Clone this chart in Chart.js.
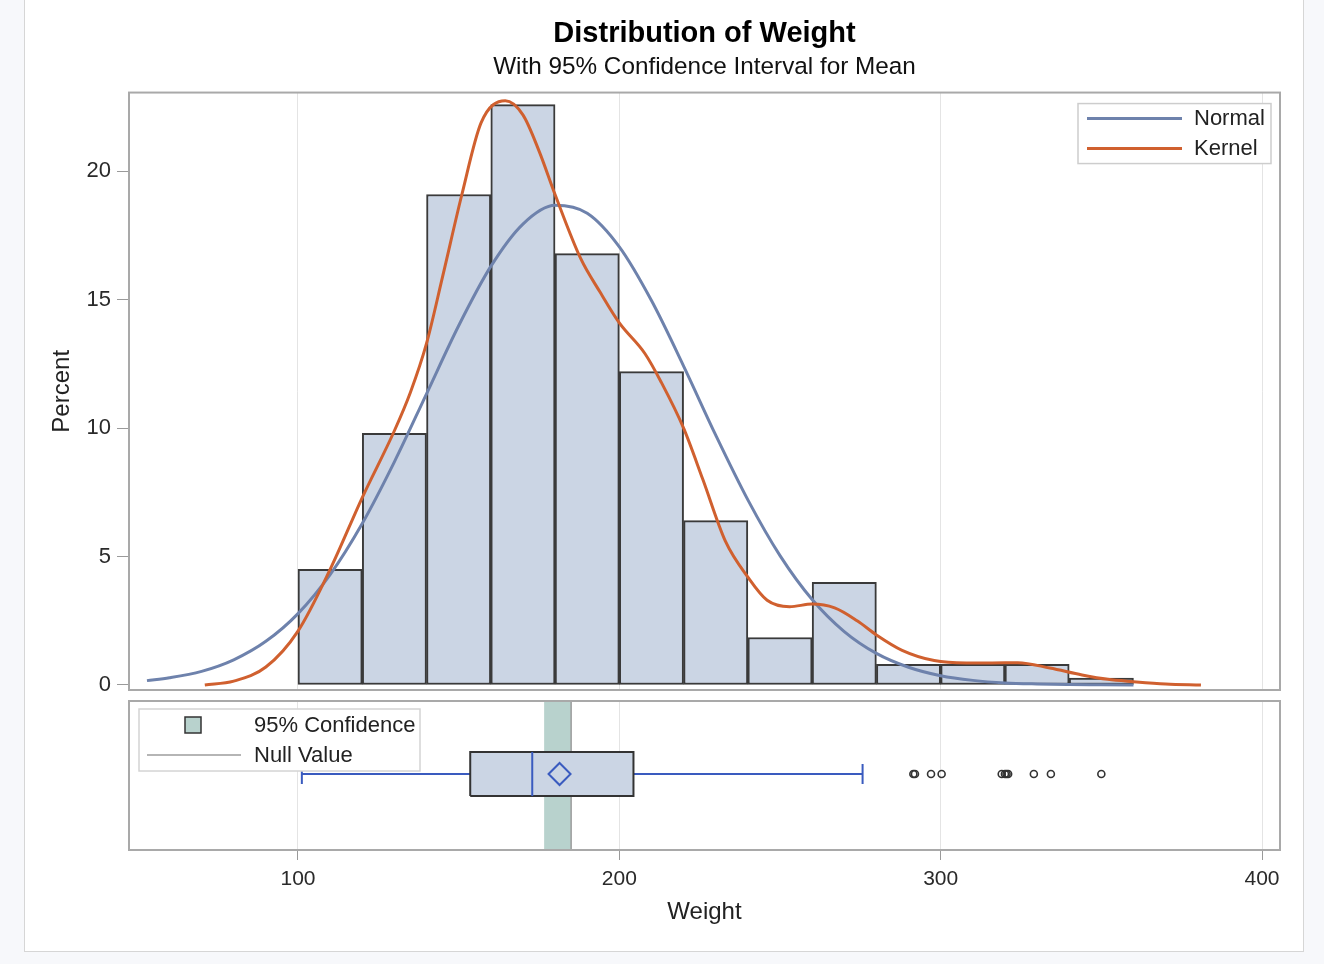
<!DOCTYPE html>
<html>
<head>
<meta charset="utf-8">
<title>Distribution of Weight</title>
<script src="https://cdn.jsdelivr.net/npm/chart.js@4.4.1/dist/chart.umd.min.js"></script>
<style>
  html, body { margin: 0; padding: 0; background: #f7f8fb; }
  #frame { position: absolute; left: 24px; top: -2px; width: 1278px; height: 952px; background: #fff; border: 1px solid #d6d6d6; }
  canvas { position: absolute; left: 0; }
  #histChart { top: 0; }
  #boxChart { top: 700px; }
</style>
</head>
<body>
<div id="frame"></div>
<canvas id="histChart" width="1324" height="700"></canvas>
<canvas id="boxChart" width="1324" height="264"></canvas>
<script>
// histogram bins (start of each 20 lb bin) and percent
const binStart = [100, 120, 140, 160, 180, 200, 220, 240, 260, 280, 300, 320, 340];
const binPercent = [4.5, 9.8, 19.1, 22.6, 16.8, 12.2, 6.4, 1.85, 4.0, 0.8, 0.8, 0.8, 0.27];

// fitted normal curve
const normalX = [53, 60, 70, 80, 90, 100, 110, 120, 130, 140, 150, 160, 170, 180, 190, 200, 210, 220, 230, 240, 250, 260, 270, 280, 290, 300, 310, 320, 330, 340, 350, 360];
const normalY = [0.17, 0.28, 0.53, 0.98, 1.70, 2.78, 4.30, 6.29, 8.69, 11.34, 13.99, 16.30, 17.95, 18.68, 18.37, 17.06, 14.97, 12.42, 9.73, 7.21, 5.04, 3.33, 2.08, 1.23, 0.69, 0.36, 0.18, 0.08, 0.04, 0.02, 0.01, 0.0];

// kernel density curve
const kernelX = [71, 80, 90, 100, 110, 120, 130, 135, 140, 145, 151, 157, 164.5, 170, 175, 180, 188, 194, 200, 208, 213, 220, 226, 233, 240, 246, 253, 260, 267, 274, 280, 288, 298, 308, 316, 324, 334, 344, 352, 360, 370, 381];
const kernelY = [0.0, 0.15, 0.7, 2.1, 4.5, 7.3, 9.9, 11.4, 13.3, 15.9, 19.1, 21.9, 22.75, 22.2, 20.8, 19.1, 16.6, 15.3, 14.1, 12.9, 11.8, 10.0, 8.0, 5.6, 4.2, 3.3, 3.05, 3.15, 3.0, 2.5, 1.95, 1.35, 0.95, 0.86, 0.86, 0.87, 0.66, 0.39, 0.22, 0.13, 0.04, 0.0];

// box plot summary
const whiskerLow = 101.2, q1 = 153.6, median = 172.9, mean = 181.4, q3 = 204.4, whiskerHigh = 275.7;
const outliers = [291.5, 292, 297, 300.3, 319, 320, 320.5, 321, 329, 334.3, 350];
const ciLow = 176.6, ciHigh = 185.0, nullValue = 185.0;

const xTicks = [100, 200, 300, 400];
const yTicks = [0, 5, 10, 15, 20];

// vertical layout of the box inside the lower panel (0..1)
const boxLow = 0.362, boxHigh = 0.658, boxMid = 0.51, capLow = 0.443, capHigh = 0.577;

const font = "'Liberation Sans', Arial, Helvetica, sans-serif";
Chart.defaults.font.family = font;
Chart.defaults.color = '#333';

const xMin = 47.41, xMax = 405.6;
const barFill = '#cbd5e4';
const blue = '#3a5bbf';

const framePlugin = {
  id: 'frame',
  afterDraw(chart) {
    const { ctx, chartArea: a } = chart;
    ctx.save();
    ctx.strokeStyle = '#a9a9a9';
    ctx.lineWidth = 2;
    ctx.strokeRect(a.left, a.top, a.right - a.left, a.bottom - a.top);
    ctx.restore();
  }
};

const curveLegend = {
  id: 'curveLegend',
  afterDatasetsDraw(chart) {
    const { ctx, chartArea: a } = chart;
    const bx = a.right - 202, by = a.top + 11;
    ctx.save();
    ctx.fillStyle = '#fff';
    ctx.fillRect(bx, by, 193, 60);
    ctx.strokeStyle = '#cdcdcd';
    ctx.lineWidth = 1.5;
    ctx.strokeRect(bx, by, 193, 60);
    const items = chart.data.datasets.filter(d => d.type === 'line');
    items.forEach((d, i) => {
      const y = by + 15 + i * 30;
      ctx.strokeStyle = d.borderColor;
      ctx.lineWidth = 3;
      ctx.beginPath();
      ctx.moveTo(bx + 9, y);
      ctx.lineTo(bx + 104, y);
      ctx.stroke();
      ctx.fillStyle = '#222';
      ctx.font = '22px ' + font;
      ctx.textBaseline = 'middle';
      ctx.fillText(d.label, bx + 116, y);
    });
    ctx.restore();
  }
};

const ciLegend = {
  id: 'ciLegend',
  afterDatasetsDraw(chart) {
    const { ctx, chartArea: a } = chart;
    const bx = a.left + 10, by = a.top + 8;
    ctx.save();
    ctx.fillStyle = '#fff';
    ctx.fillRect(bx, by, 281, 62);
    ctx.strokeStyle = '#d4d4d4';
    ctx.lineWidth = 1.5;
    ctx.strokeRect(bx, by, 281, 62);
    ctx.fillStyle = '#b8d2cd';
    ctx.fillRect(bx + 46, by + 8, 16, 16);
    ctx.strokeStyle = '#333';
    ctx.lineWidth = 1.5;
    ctx.strokeRect(bx + 46, by + 8, 16, 16);
    ctx.strokeStyle = '#9c9c9c';
    ctx.beginPath();
    ctx.moveTo(bx + 8, by + 46);
    ctx.lineTo(bx + 102, by + 46);
    ctx.stroke();
    ctx.fillStyle = '#222';
    ctx.font = '22px ' + font;
    ctx.textBaseline = 'middle';
    ctx.fillText('95% Confidence', bx + 115, by + 17);
    ctx.fillText('Null Value', bx + 115, by + 47);
    ctx.restore();
  }
};

new Chart(document.getElementById('histChart'), {
  type: 'bar',
  data: {
    datasets: [
      {
        type: 'bar',
        label: 'Percent',
        data: binStart.map((s, i) => ({ x: s + 10, y: binPercent[i] })),
        backgroundColor: barFill,
        borderColor: '#3a3a3a',
        borderWidth: 2,
        borderSkipped: false,
        barPercentage: 1,
        categoryPercentage: 1,
        order: 3
      },
      {
        type: 'line',
        label: 'Normal',
        data: normalX.map((x, i) => ({ x: x, y: normalY[i] })),
        borderColor: '#6e82ac',
        backgroundColor: '#6e82ac',
        borderWidth: 3,
        pointRadius: 0,
        cubicInterpolationMode: 'monotone',
        order: 2
      },
      {
        type: 'line',
        label: 'Kernel',
        data: kernelX.map((x, i) => ({ x: x, y: kernelY[i] })),
        borderColor: '#d0602f',
        backgroundColor: '#d0602f',
        borderWidth: 3,
        pointRadius: 0,
        cubicInterpolationMode: 'monotone',
        order: 1
      }
    ]
  },
  options: {
    responsive: false,
    animation: false,
    layout: { autoPadding: false, padding: { left: 0, right: 44, top: 0, bottom: 0 } },
    plugins: {
      legend: { display: false },
      tooltip: { enabled: false },
      title: {
        display: true,
        text: 'Distribution of Weight',
        fullSize: false,
        color: '#000',
        font: { size: 29, weight: 'bold' },
        padding: { top: 17, bottom: 0 }
      },
      subtitle: {
        display: true,
        text: 'With 95% Confidence Interval for Mean',
        fullSize: false,
        color: '#111',
        font: { size: 24.3 },
        padding: { top: 1, bottom: 10.6 }
      }
    },
    scales: {
      x: {
        type: 'linear',
        min: xMin,
        max: xMax,
        offset: false,
        afterBuildTicks: s => { s.ticks = xTicks.map(v => ({ value: v })); },
        ticks: { display: false },
        grid: { color: '#e4e4e4', drawTicks: false, offset: false },
        border: { display: false },
        afterFit: s => { s.height = 10; s.paddingLeft = 0; s.paddingRight = 0; }
      },
      y: {
        min: -0.195,
        max: 23.07,
        afterBuildTicks: s => { s.ticks = yTicks.map(v => ({ value: v })); },
        ticks: { font: { size: 22 }, color: '#2a2a2a', padding: 6 },
        grid: { drawOnChartArea: false, tickLength: 12, tickColor: '#9a9a9a' },
        border: { display: false },
        title: { display: true, text: 'Percent', color: '#222', font: { size: 24 }, padding: { top: 47.6 } },
        afterFit: s => { s.width = 129; s.paddingTop = 0; s.paddingBottom = 0; }
      }
    }
  },
  plugins: [framePlugin, curveLegend]
});

new Chart(document.getElementById('boxChart'), {
  type: 'scatter',
  data: {
    datasets: [
      {
        label: '95% Confidence',
        data: [{ x: ciLow, y: 0 }, { x: ciHigh, y: 0 }, { x: ciHigh, y: 1 }, { x: ciLow, y: 1 }],
        showLine: true,
        fill: 'shape',
        backgroundColor: '#b8d2cd',
        borderColor: 'rgba(0,0,0,0)',
        borderWidth: 0,
        pointRadius: 0,
        order: 10
      },
      {
        label: 'Null Value',
        data: [{ x: nullValue, y: 0 }, { x: nullValue, y: 1 }],
        showLine: true,
        borderColor: '#9c9c9c',
        borderWidth: 1.5,
        pointRadius: 0,
        order: 9
      },
      {
        label: 'Whiskers',
        data: [
          { x: whiskerLow, y: capLow }, { x: whiskerLow, y: capHigh }, { x: whiskerLow, y: null },
          { x: whiskerLow, y: boxMid }, { x: q1, y: boxMid }, { x: q1, y: null },
          { x: q3, y: boxMid }, { x: whiskerHigh, y: boxMid }, { x: whiskerHigh, y: null },
          { x: whiskerHigh, y: capLow }, { x: whiskerHigh, y: capHigh }
        ],
        showLine: true,
        spanGaps: false,
        borderColor: blue,
        borderWidth: 2,
        pointRadius: 0,
        order: 5
      },
      {
        label: 'Box',
        data: [{ x: q1, y: boxLow }, { x: q3, y: boxLow }, { x: q3, y: boxHigh }, { x: q1, y: boxHigh }, { x: q1, y: boxLow }],
        showLine: true,
        fill: 'shape',
        backgroundColor: barFill,
        borderColor: '#333',
        borderWidth: 2,
        pointRadius: 0,
        order: 4
      },
      {
        label: 'Median',
        data: [{ x: median, y: boxLow }, { x: median, y: boxHigh }],
        showLine: true,
        borderColor: blue,
        borderWidth: 2,
        pointRadius: 0,
        order: 3
      },
      {
        label: 'Mean',
        data: [{ x: mean, y: boxMid }],
        pointStyle: 'rectRot',
        pointRadius: 11,
        borderColor: blue,
        backgroundColor: 'rgba(0,0,0,0)',
        borderWidth: 2,
        order: 2
      },
      {
        label: 'Outliers',
        data: outliers.map(v => ({ x: v, y: boxMid })),
        pointStyle: 'circle',
        pointRadius: 3.5,
        borderColor: '#333',
        backgroundColor: 'rgba(0,0,0,0)',
        borderWidth: 1.6,
        order: 1
      }
    ]
  },
  options: {
    responsive: false,
    animation: false,
    layout: { autoPadding: false, padding: { left: 0, right: 44, top: 1, bottom: 0 } },
    plugins: {
      legend: { display: false },
      tooltip: { enabled: false }
    },
    scales: {
      x: {
        type: 'linear',
        min: xMin,
        max: xMax,
        afterBuildTicks: s => { s.ticks = xTicks.map(v => ({ value: v })); },
        ticks: { font: { size: 21 }, color: '#2a2a2a', padding: 7 },
        grid: { color: '#e4e4e4', tickLength: 10, tickColor: '#9a9a9a' },
        border: { display: false },
        title: { display: true, text: 'Weight', color: '#222', font: { size: 24 }, padding: { bottom: 37.6 } },
        afterFit: s => { s.height = 114; s.paddingLeft = 0; s.paddingRight = 0; }
      },
      y: {
        min: 0,
        max: 1,
        ticks: { display: false },
        grid: { display: false },
        border: { display: false },
        afterFit: s => { s.width = 129; s.paddingTop = 0; s.paddingBottom = 0; }
      }
    }
  },
  plugins: [framePlugin, ciLegend]
});
</script>
</body>
</html>
